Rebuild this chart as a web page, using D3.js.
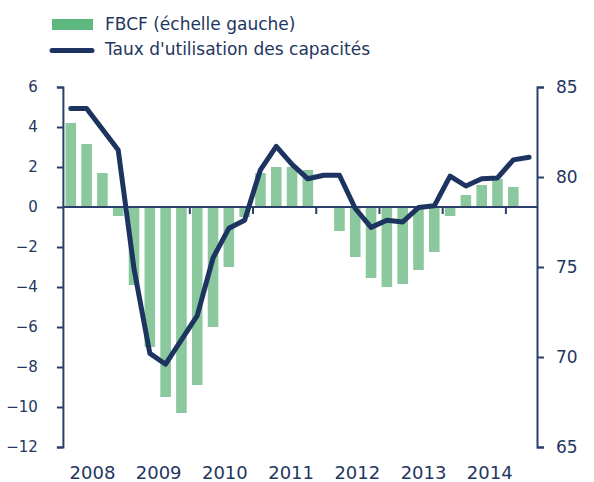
<!DOCTYPE html>
<meta charset="utf-8">
<head>
<style>
  body { margin: 0; background: #fff; }
  text { font-family: "DejaVu Sans", sans-serif; fill: #23365f; }
</style>
</head>
<script src="https://cdn.jsdelivr.net/npm/d3@7"></script>
<body>
<div id="chart"></div>
</body>
<script>
    // quarters 2008T1 .. 2015T2 (30 slots, FBCF missing for the last one)
    var quarters = d3.range(30);
    var years = ["2008", "2009", "2010", "2011", "2012", "2013", "2014"];

    // FBCF, glissement annuel (%) - left scale
    var fbcf = [4.2, 3.15, 1.7, -0.45, -3.9, -7.0, -9.5, -10.3, -8.9, -6.0, -3.0, -0.5,
                1.7, 2.0, 2.0, 1.85, 0.05, -1.2, -2.5, -3.55, -4.0, -3.85, -3.15, -2.25,
                -0.45, 0.6, 1.1, 1.4, 1.0];

    // taux d'utilisation des capacites (%) - right scale
    var tuc = [83.8, 83.8, 82.65, 81.5, 74.9, 70.2, 69.6, 70.95, 72.3, 75.5, 77.15, 77.6,
               80.4, 81.7, 80.7, 79.9, 80.1, 80.1, 78.25, 77.2, 77.6, 77.5, 78.3, 78.4,
               80.05, 79.5, 79.9, 79.95, 80.95, 81.1];

    var leftTicks = [6, 4, 2, 0, -2, -4, -6, -8, -10, -12];
    var rightTicks = [85, 80, 75, 70, 65];

    var width = 594, height = 482;
    var margin = {top: 87, right: 57, bottom: 35, left: 62.9};
    var navy = "#1d3461", axisCol = "#2b3f6b";

    var svg = d3.select("#chart").append("svg")
        .attr("width", width)
        .attr("height", height);

    var x = d3.scaleBand()
        .domain(quarters)
        .range([margin.left, width - margin.right])
        .paddingInner(0.33)
        .paddingOuter(0.165);
    var step = x.step();

    var yL = d3.scaleLinear().domain([-12, 6]).range([height - margin.bottom, margin.top]);
    var yR = d3.scaleLinear().domain([65, 85]).range([height - margin.bottom, margin.top]);

    // bars
    svg.append("g")
      .selectAll("rect")
      .data(fbcf)
      .enter()
      .append("rect")
        .attr("x", function(d, i) { return x(i); })
        .attr("width", x.bandwidth())
        .attr("y", function(d) { return yL(Math.max(0, d)); })
        .attr("height", function(d) { return Math.abs(yL(d) - yL(0)); })
        .style("fill", "#8bc89d");

    // left axis
    var axL = svg.append("g")
        .attr("transform", "translate(" + margin.left + ",0)")
        .call(d3.axisLeft(yL).tickValues(leftTicks).tickSize(6).tickPadding(19).tickFormat(d3.format("d")));
    axL.select(".domain").attr("stroke", axisCol).attr("stroke-width", 2);
    axL.selectAll(".tick line").attr("stroke", axisCol).attr("stroke-width", 2);
    axL.selectAll(".tick text").style("font-size", "15px").style("font-family", "DejaVu Sans").attr("fill", "#23365f");

    // right axis
    var axR = svg.append("g")
        .attr("transform", "translate(" + (width - margin.right) + ",0)")
        .call(d3.axisRight(yR).tickValues(rightTicks).tickSize(7).tickPadding(12));
    axR.select(".domain").attr("stroke", axisCol).attr("stroke-width", 2);
    axR.selectAll(".tick line").attr("stroke", axisCol).attr("stroke-width", 2);
    axR.selectAll(".tick text").style("font-size", "17px").style("font-family", "DejaVu Sans").attr("fill", "#23365f");

    // zero line with yearly ticks
    var axX = svg.append("g")
        .attr("transform", "translate(0," + yL(0) + ")")
        .call(d3.axisBottom(d3.scaleLinear().domain([0, 30]).range([margin.left, margin.left + 30 * step]))
              .tickValues([4, 8, 12, 16, 20, 24, 28]).tickSize(7).tickFormat(""));
    axX.select(".domain").attr("stroke", axisCol).attr("stroke-width", 2).attr("d", "M" + margin.left + ",0H" + (width - margin.right));
    axX.selectAll(".tick line").attr("stroke", axisCol).attr("stroke-width", 2);

    // year labels below the plot
    svg.append("g")
      .selectAll("text")
      .data(years)
      .enter()
      .append("text")
        .attr("x", function(d, i) { return margin.left + (1.87 + i * 4.19) * step; })
        .attr("y", 479)
        .attr("text-anchor", "middle")
        .style("font-size", "18px")
        .text(function(d) { return d; });

    // capacity utilisation line
    var line = d3.line()
        .x(function(d, i) { return x(i) + x.bandwidth() / 2; })
        .y(function(d) { return yR(d); });

    svg.append("path")
        .datum(tuc)
        .attr("d", line)
        .attr("fill", "none")
        .attr("stroke", navy)
        .attr("stroke-width", 5)
        .attr("stroke-linejoin", "round")
        .attr("stroke-linecap", "round");

    // legend
    var legend = svg.append("g");
    legend.append("rect").attr("x", 52).attr("y", 19).attr("width", 41).attr("height", 11).style("fill", "#5db880");
    legend.append("text").attr("x", 105).attr("y", 29.5).style("font-size", "17px").text("FBCF (échelle gauche)");
    legend.append("line").attr("x1", 52).attr("x2", 92).attr("y1", 50.5).attr("y2", 50.5)
        .attr("stroke", navy).attr("stroke-width", 5).attr("stroke-linecap", "round");
    legend.append("text").attr("x", 105).attr("y", 55).style("font-size", "17px").text("Taux d'utilisation des capacités");
</script>
